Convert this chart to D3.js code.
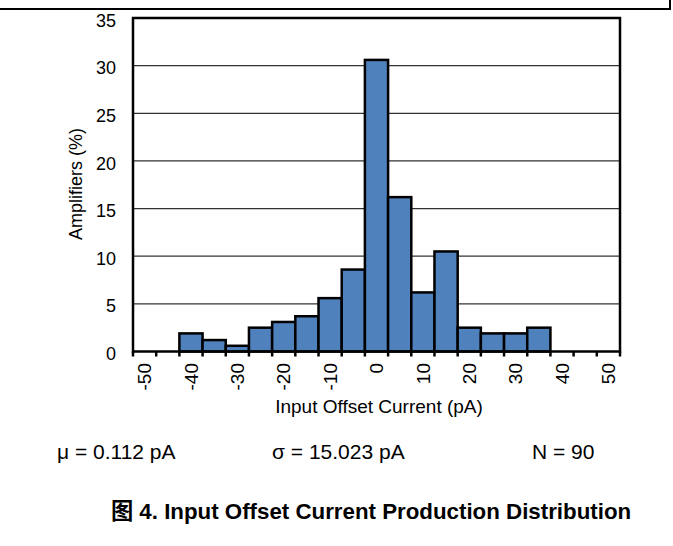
<!DOCTYPE html>
<html>
<head>
<meta charset="utf-8">
<script src="https://cdn.jsdelivr.net/npm/d3@7"></script>
<style>
body { margin:0; background:#fff; }
text { font-family: "Liberation Sans", Arial, "Noto Sans CJK SC", sans-serif; fill:#000; }
</style>
</head>
<body>
<div id="chart"></div>
<script>
// excel style category axis: one category per 5 pA, labels on every other one
var categories = [-50, -45, -40, -35, -30, -25, -20, -15, -10, -5, 0, 5, 10, 15, 20, 25, 30, 35, 40, 45, 50];
var binStarts = [-40, -35, -30, -25, -20, -15, -10, -5, 0, 5, 10, 15, 20, 25, 30, 35];
var percents = [1.9, 1.2, 0.6, 2.5, 3.1, 3.7, 5.6, 8.6, 30.6, 16.2, 6.2, 10.5, 2.5, 1.9, 1.9, 2.5];
var xTickLabels = [-50, -40, -30, -20, -10, 0, 10, 20, 30, 40, 50];
var yTicks = [0, 5, 10, 15, 20, 25, 30, 35];
var stats = ["\u03bc = 0.112 pA", "\u03c3 = 15.023 pA", "N = 90"];
var caption = "\u56fe 4. Input Offset Current Production Distribution";

var W = 673, H = 546;
var svg = d3.select("#chart").append("svg")
	.attr("width", W)
	.attr("height", H);

var pLeft = 133, pRight = 620, pTop = 18, pBottom = 351.5;

var x = d3.scaleBand().domain(categories).range([pLeft, pRight]).padding(0);
var y = d3.scaleLinear().domain([0, 35]).range([pBottom, pTop]);

// page frame line
svg.append("path")
	.attr("d", "M0,9H670V0")
	.attr("fill", "none")
	.attr("stroke", "#000")
	.attr("stroke-width", 2);

// grid
svg.selectAll("line.grid")
	.data(yTicks.filter(function(d){ return d > 0 && d < 35; }))
	.enter().append("line")
	.attr("class", "grid")
	.attr("x1", pLeft).attr("x2", pRight)
	.attr("y1", function(d){ return y(d); })
	.attr("y2", function(d){ return y(d); })
	.attr("stroke", "#333")
	.attr("stroke-width", 1.2);

// bars
svg.selectAll("rect.bar")
	.data(binStarts)
	.enter().append("rect")
	.attr("class", "bar")
	.attr("x", function(d){ return x(d); })
	.attr("width", x.bandwidth())
	.attr("y", function(d, i){ return y(percents[i]); })
	.attr("height", function(d, i){ return y(0) - y(percents[i]); })
	.attr("fill", "#4f81bd")
	.attr("stroke", "#000")
	.attr("stroke-width", 2.5);

// plot frame
svg.append("rect")
	.attr("x", pLeft).attr("y", pTop)
	.attr("width", pRight - pLeft).attr("height", pBottom - pTop)
	.attr("fill", "none")
	.attr("stroke", "#000")
	.attr("stroke-width", 2.5);

// x ticks between categories
var edges = categories.map(function(d){ return x(d); }).concat([pRight]);
svg.selectAll("line.xt")
	.data(edges)
	.enter().append("line")
	.attr("class", "xt")
	.attr("x1", function(d){ return d; }).attr("x2", function(d){ return d; })
	.attr("y1", pBottom).attr("y2", pBottom + 5)
	.attr("stroke", "#000")
	.attr("stroke-width", 2.5);

// x tick labels, rotated, centred in their category
svg.selectAll("text.xl")
	.data(xTickLabels)
	.enter().append("text")
	.attr("class", "xl")
	.attr("transform", function(d){ return "translate(" + (x(d) + x.bandwidth() / 2) + ",363) rotate(-90)"; })
	.attr("text-anchor", "end")
	.attr("dy", "0.35em")
	.style("font-size", "19px")
	.text(function(d){ return d; });

// y axis labels
var yAxis = d3.axisLeft(y).tickValues(yTicks).tickSize(0).tickPadding(17);
var gy = svg.append("g").attr("transform", "translate(" + pLeft + ",0)").call(yAxis);
gy.select(".domain").remove();
gy.selectAll("text").style("font-size", "18px").style("font-family", null).attr("fill", "#000").attr("dy", "0.45em");

svg.append("text")
	.attr("transform", "translate(82," + 184 + ") rotate(-90)")
	.attr("text-anchor", "middle")
	.style("font-size", "18px")
	.text("Amplifiers (%)");

svg.append("text")
	.attr("x", 379).attr("y", 413)
	.attr("text-anchor", "middle")
	.style("font-size", "19px")
	.text("Input Offset Current (pA)");

svg.selectAll("text.stat")
	.data(stats)
	.enter().append("text")
	.attr("class", "stat")
	.attr("x", function(d, i){ return [57, 272, 532][i]; })
	.attr("y", 459)
	.style("font-size", "21px")
	.text(function(d){ return d; });

svg.append("text")
	.attr("x", 371).attr("y", 519)
	.attr("text-anchor", "middle")
	.style("font-size", "22.3px")
	.style("font-weight", "bold")
	.text(caption);
</script>
</body>
</html>
